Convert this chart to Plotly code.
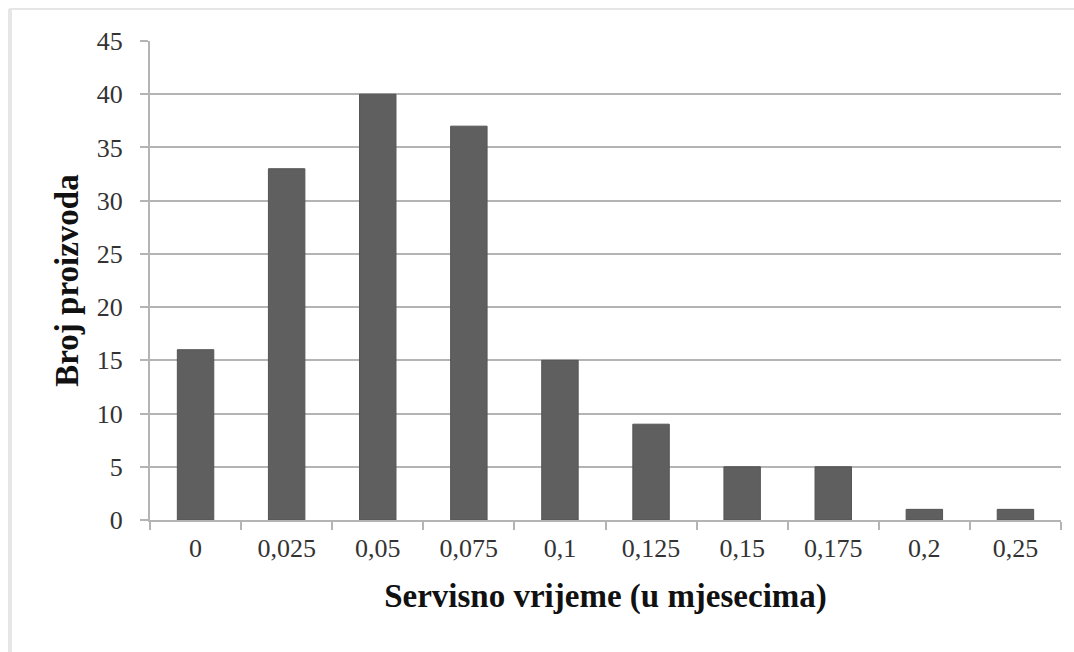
import plotly.graph_objects as go

# Service time categories (months) and number of products in each
categories = ["0", "0,025", "0,05", "0,075", "0,1", "0,125", "0,15", "0,175", "0,2", "0,25"]
counts = [16, 33, 40, 37, 15, 9, 5, 5, 1, 1]
y_ticks = [0, 5, 10, 15, 20, 25, 30, 35, 40, 45]

W, H = 1074, 652
L, R, T, B = 150, 13, 41, 132
pw, ph = W - L - R, H - T - B

def px_x(x):
    return (x - L) / pw

def px_y(y):
    return (H - B - y) / ph

serif = "Liberation Serif"
grid = "#b4b4b4"
tick_font = dict(size=26, family=serif, color="#333333")

fig = go.Figure(
    go.Bar(
        x=categories,
        y=counts,
        marker=dict(color="#5f5f5f", line=dict(color="#555555", width=1)),
        width=0.4,
    )
)

fig.update_layout(
    width=W,
    height=H,
    margin=dict(l=L, r=R, t=T, b=B),
    paper_bgcolor="white",
    plot_bgcolor="white",
    showlegend=False,
    font=dict(family=serif, color="#333333", size=26),
    shapes=[
        # light frame along the top and left edges
        dict(type="line", xref="paper", yref="paper",
             x0=px_x(9), x1=px_x(W), y0=px_y(9), y1=px_y(9),
             line=dict(color="#e6e6e6", width=2)),
        dict(type="line", xref="paper", yref="paper",
             x0=px_x(10), x1=px_x(10), y0=px_y(9), y1=px_y(H),
             line=dict(color="#e6e6e6", width=4)),
    ],
)

fig.update_xaxes(
    type="category",
    showgrid=False,
    showline=True,
    linecolor=grid,
    linewidth=2,
    ticks="outside",
    tickson="boundaries",
    ticklen=8,
    tickcolor=grid,
    tickwidth=2,
    ticklabelstandoff=4,
    tickfont=tick_font,
    title=dict(text="<b>Servisno vrijeme (u mjesecima)</b>",
               font=dict(size=33, family=serif, color="#111111"),
               standoff=22),
)

fig.update_yaxes(
    range=[0, 45],
    tickvals=y_ticks,
    showgrid=True,
    gridcolor=grid,
    gridwidth=2,
    showline=True,
    linecolor=grid,
    linewidth=2,
    ticks="outside",
    ticklen=8,
    tickcolor=grid,
    tickwidth=2,
    ticklabelstandoff=12,
    zeroline=False,
    tickfont=tick_font,
    title=dict(text="<b>Broj proizvoda</b>",
               font=dict(size=33, family=serif, color="#111111"),
               standoff=8),
)

fig.write_html("out.html")
